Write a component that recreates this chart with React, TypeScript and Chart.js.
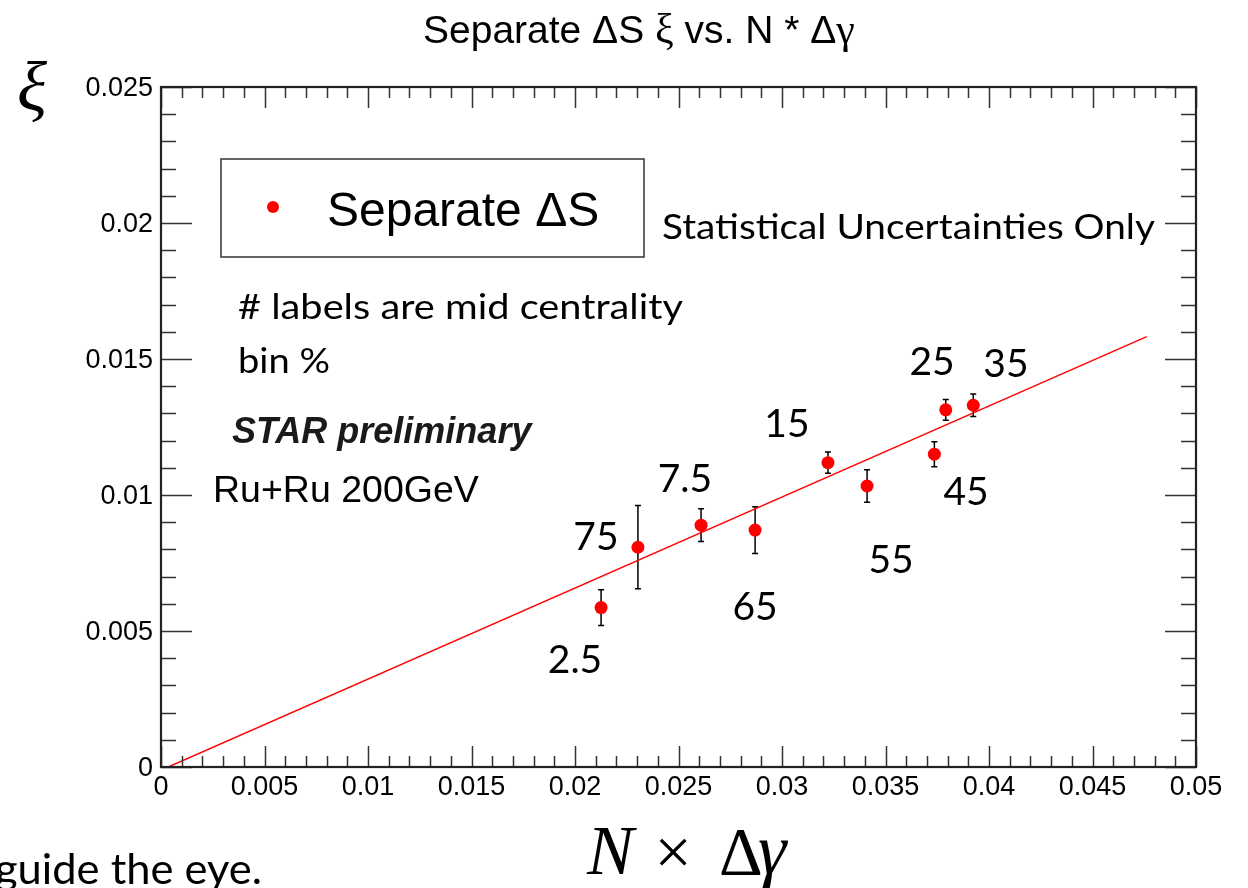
import { useEffect, useRef } from "react";
import { Chart, registerables } from "chart.js";

Chart.register(...registerables);

// N x Δγ for each centrality bin
const ndg = [0.02126, 0.02304, 0.02609, 0.0287, 0.03222, 0.03411, 0.03736, 0.03791, 0.03924];
// ξ values and their statistical uncertainties
const xi = [0.00586, 0.00808, 0.00889, 0.00871, 0.01119, 0.01033, 0.0115, 0.01313, 0.0133];
const xiErr = [0.00066, 0.00153, 0.0006, 0.00086, 0.00039, 0.0006, 0.00046, 0.00038, 0.00041];
// mid-centrality percentages, one per point
const centrality = ["2.5", "75", "7.5", "65", "15", "55", "45", "25", "35"];

// straight guide line end points
const fitX = [0.00035, 0.04762];
const fitY = [0, 0.01582];

// axis ticks
const xTicks = [0, 0.005, 0.01, 0.015, 0.02, 0.025, 0.03, 0.035, 0.04, 0.045, 0.05];
const xTickLabels = ["0", "0.005", "0.01", "0.015", "0.02", "0.025", "0.03", "0.035", "0.04", "0.045", "0.05"];
const yTicks = [0, 0.005, 0.01, 0.015, 0.02, 0.025];
const yTickLabels = ["0", "0.005", "0.01", "0.015", "0.02", "0.025"];
const minorStep = 0.001;

// where each centrality label sits, in data units (text centre, baseline)
const labelAnchors: [number, number][] = [
  [0.02, 0.00346],
  [0.02101, 0.00798],
  [0.02531, 0.01011],
  [0.0287, 0.0054],
  [0.03024, 0.01213],
  [0.03527, 0.00713],
  [0.03889, 0.00963],
  [0.03725, 0.01441],
  [0.04082, 0.01434],
];

const SANS = "'Liberation Sans', Arial, Helvetica, sans-serif";
const SERIF = "'Liberation Serif', 'Times New Roman', serif";
const NOTE = "Lato, 'Open Sans', sans-serif";

function drawPieces(
  ctx: CanvasRenderingContext2D,
  pieces: { t: string; font: string }[],
  x: number,
  y: number
) {
  let cx = x;
  for (const p of pieces) {
    ctx.font = p.font;
    ctx.fillText(p.t, cx, y);
    cx += ctx.measureText(p.t).width;
  }
}

// draws left-aligned text stretched horizontally to span the given width
function fitText(ctx: CanvasRenderingContext2D, text: string, font: string, x: number, y: number, width: number) {
  ctx.save();
  ctx.font = font;
  ctx.textAlign = "left";
  const w = ctx.measureText(text).width;
  ctx.translate(x, y);
  ctx.scale(width / w, 1);
  ctx.fillText(text, 0, 0);
  ctx.restore();
}

const overlay = {
  id: "overlay",
  beforeDatasetsDraw(chart: any) {
    const ctx: CanvasRenderingContext2D = chart.ctx;
    const xs = chart.scales.x;
    const ys = chart.scales.y;
    ctx.save();
    ctx.strokeStyle = "#000";
    ctx.lineWidth = 1.5;
    for (let i = 0; i < ndg.length; i++) {
      const px = xs.getPixelForValue(ndg[i]);
      const top = ys.getPixelForValue(xi[i] + xiErr[i]);
      const bot = ys.getPixelForValue(xi[i] - xiErr[i]);
      ctx.beginPath();
      ctx.moveTo(px, top);
      ctx.lineTo(px, bot);
      ctx.moveTo(px - 3, top);
      ctx.lineTo(px + 3, top);
      ctx.moveTo(px - 3, bot);
      ctx.lineTo(px + 3, bot);
      ctx.stroke();
    }
    ctx.restore();
  },
  afterDraw(chart: any) {
    const ctx: CanvasRenderingContext2D = chart.ctx;
    const xs = chart.scales.x;
    const ys = chart.scales.y;
    const a = chart.chartArea;
    ctx.save();

    // ticks on all four sides, pointing inward
    ctx.strokeStyle = "#333";
    ctx.lineWidth = 1.5;
    ctx.beginPath();
    const nx = Math.round((xs.max - xs.min) / minorStep);
    for (let k = 0; k <= nx; k++) {
      const v = xs.min + k * minorStep;
      const px = Math.round(xs.getPixelForValue(v)) + 0.5;
      const major = k % 5 === 0;
      const len = major ? 21 : 11;
      ctx.moveTo(px, a.bottom);
      ctx.lineTo(px, a.bottom - len);
      ctx.moveTo(px, a.top);
      ctx.lineTo(px, a.top + len);
    }
    const ny = Math.round((ys.max - ys.min) / minorStep);
    for (let k = 0; k <= ny; k++) {
      const v = ys.min + k * minorStep;
      const py = Math.round(ys.getPixelForValue(v)) + 0.5;
      const major = k % 5 === 0;
      const len = major ? 31 : 15;
      ctx.moveTo(a.left, py);
      ctx.lineTo(a.left + len, py);
      ctx.moveTo(a.right, py);
      ctx.lineTo(a.right - len, py);
    }
    ctx.stroke();

    // frame
    ctx.lineWidth = 2.2;
    ctx.strokeStyle = "#222";
    ctx.strokeRect(a.left, a.top, a.right - a.left, a.bottom - a.top);

    // tick labels
    ctx.fillStyle = "#000";
    ctx.font = `27px ${SANS}`;
    ctx.textAlign = "center";
    ctx.textBaseline = "alphabetic";
    xTicks.forEach((v, i) => {
      ctx.fillText(xTickLabels[i], xs.getPixelForValue(v), a.bottom + 28);
    });
    ctx.textAlign = "right";
    yTicks.forEach((v, i) => {
      ctx.fillText(yTickLabels[i], a.left - 8, ys.getPixelForValue(v) + 9);
    });

    // title
    ctx.textAlign = "left";
    drawPieces(
      ctx,
      [
        { t: "Separate ΔS ", font: `39px ${SANS}` },
        { t: "ξ", font: `42px ${SERIF}` },
        { t: " vs. N * Δ", font: `39px ${SANS}` },
        { t: "γ", font: `42px ${SERIF}` },
      ],
      423,
      43
    );

    // axis titles
    ctx.font = `italic 70px ${SERIF}`;
    ctx.fillText("ξ", 17, 110);
    ctx.font = `italic 70px ${SERIF}`;
    ctx.fillText("N", 587, 874);
    ctx.font = `66px ${SERIF}`;
    ctx.textAlign = "center";
    ctx.fillText("×", 673, 874);
    ctx.textAlign = "left";
    ctx.font = `68px ${SERIF}`;
    ctx.fillText("Δ", 719, 874);
    ctx.font = `italic 72px ${SERIF}`;
    ctx.fillText("γ", 758, 874);

    // legend box
    ctx.lineWidth = 1.5;
    ctx.strokeStyle = "#333";
    ctx.strokeRect(221, 159, 423, 98);
    ctx.fillStyle = "#ff0000";
    ctx.beginPath();
    ctx.arc(273, 207, 6, 0, Math.PI * 2);
    ctx.fill();
    ctx.fillStyle = "#000";
    ctx.font = `48px ${SANS}`;
    ctx.fillText("Separate ΔS", 327, 226);

    // notes
    fitText(ctx, "Statistical Uncertainties Only", `34px ${NOTE}`, 662, 239, 493);
    fitText(ctx, "# labels are mid centrality", `34px ${NOTE}`, 238, 319, 445);
    fitText(ctx, "bin %", `34px ${NOTE}`, 238, 373, 92);
    ctx.fillStyle = "#1a1a1a";
    ctx.font = `italic bold 36px ${SANS}`;
    ctx.fillText("STAR preliminary", 232, 443);
    ctx.fillStyle = "#000";
    ctx.font = `37.5px ${SANS}`;
    ctx.fillText("Ru+Ru 200GeV", 213, 502);
    fitText(ctx, "guide the eye.", `42px ${NOTE}`, -5, 884, 267);

    // centrality labels
    ctx.font = `39px ${NOTE}`;
    ctx.textAlign = "center";
    centrality.forEach((lab, i) => {
      const [lx, ly] = labelAnchors[i];
      ctx.fillText(lab, xs.getPixelForValue(lx), ys.getPixelForValue(ly));
    });

    ctx.restore();
  },
};

export default function App() {
  const ref = useRef<HTMLCanvasElement | null>(null);

  useEffect(() => {
    if (!ref.current) return;
    const chart = new Chart(ref.current, {
      type: "scatter",
      data: {
        datasets: [
          {
            label: "Separate ΔS",
            data: ndg.map((x, i) => ({ x, y: xi[i] })),
            backgroundColor: "#ff0000",
            borderWidth: 0,
            pointRadius: 6.5,
            pointHoverRadius: 6.5,
          },
          {
            type: "line",
            label: "guide",
            data: fitX.map((x, i) => ({ x, y: fitY[i] })),
            borderColor: "#ff0000",
            borderWidth: 1.4,
            pointRadius: 0,
            showLine: true,
            fill: false,
          } as any,
        ],
      },
      options: {
        animation: false,
        responsive: false,
        devicePixelRatio: 1,
        layout: { padding: { left: 161, right: 52, top: 87, bottom: 121 } },
        scales: {
          x: { type: "linear", min: 0, max: 0.05, display: false },
          y: { type: "linear", min: 0, max: 0.025, display: false },
        },
        plugins: {
          legend: { display: false },
          tooltip: { enabled: false },
        },
        events: [],
      },
      plugins: [overlay],
    });
    return () => chart.destroy();
  }, []);

  return (
    <div style={{ position: "absolute", left: 0, top: 0, width: 1248, height: 888, background: "#fff" }}>
      <canvas ref={ref} width={1248} height={888} style={{ display: "block" }} />
    </div>
  );
}
